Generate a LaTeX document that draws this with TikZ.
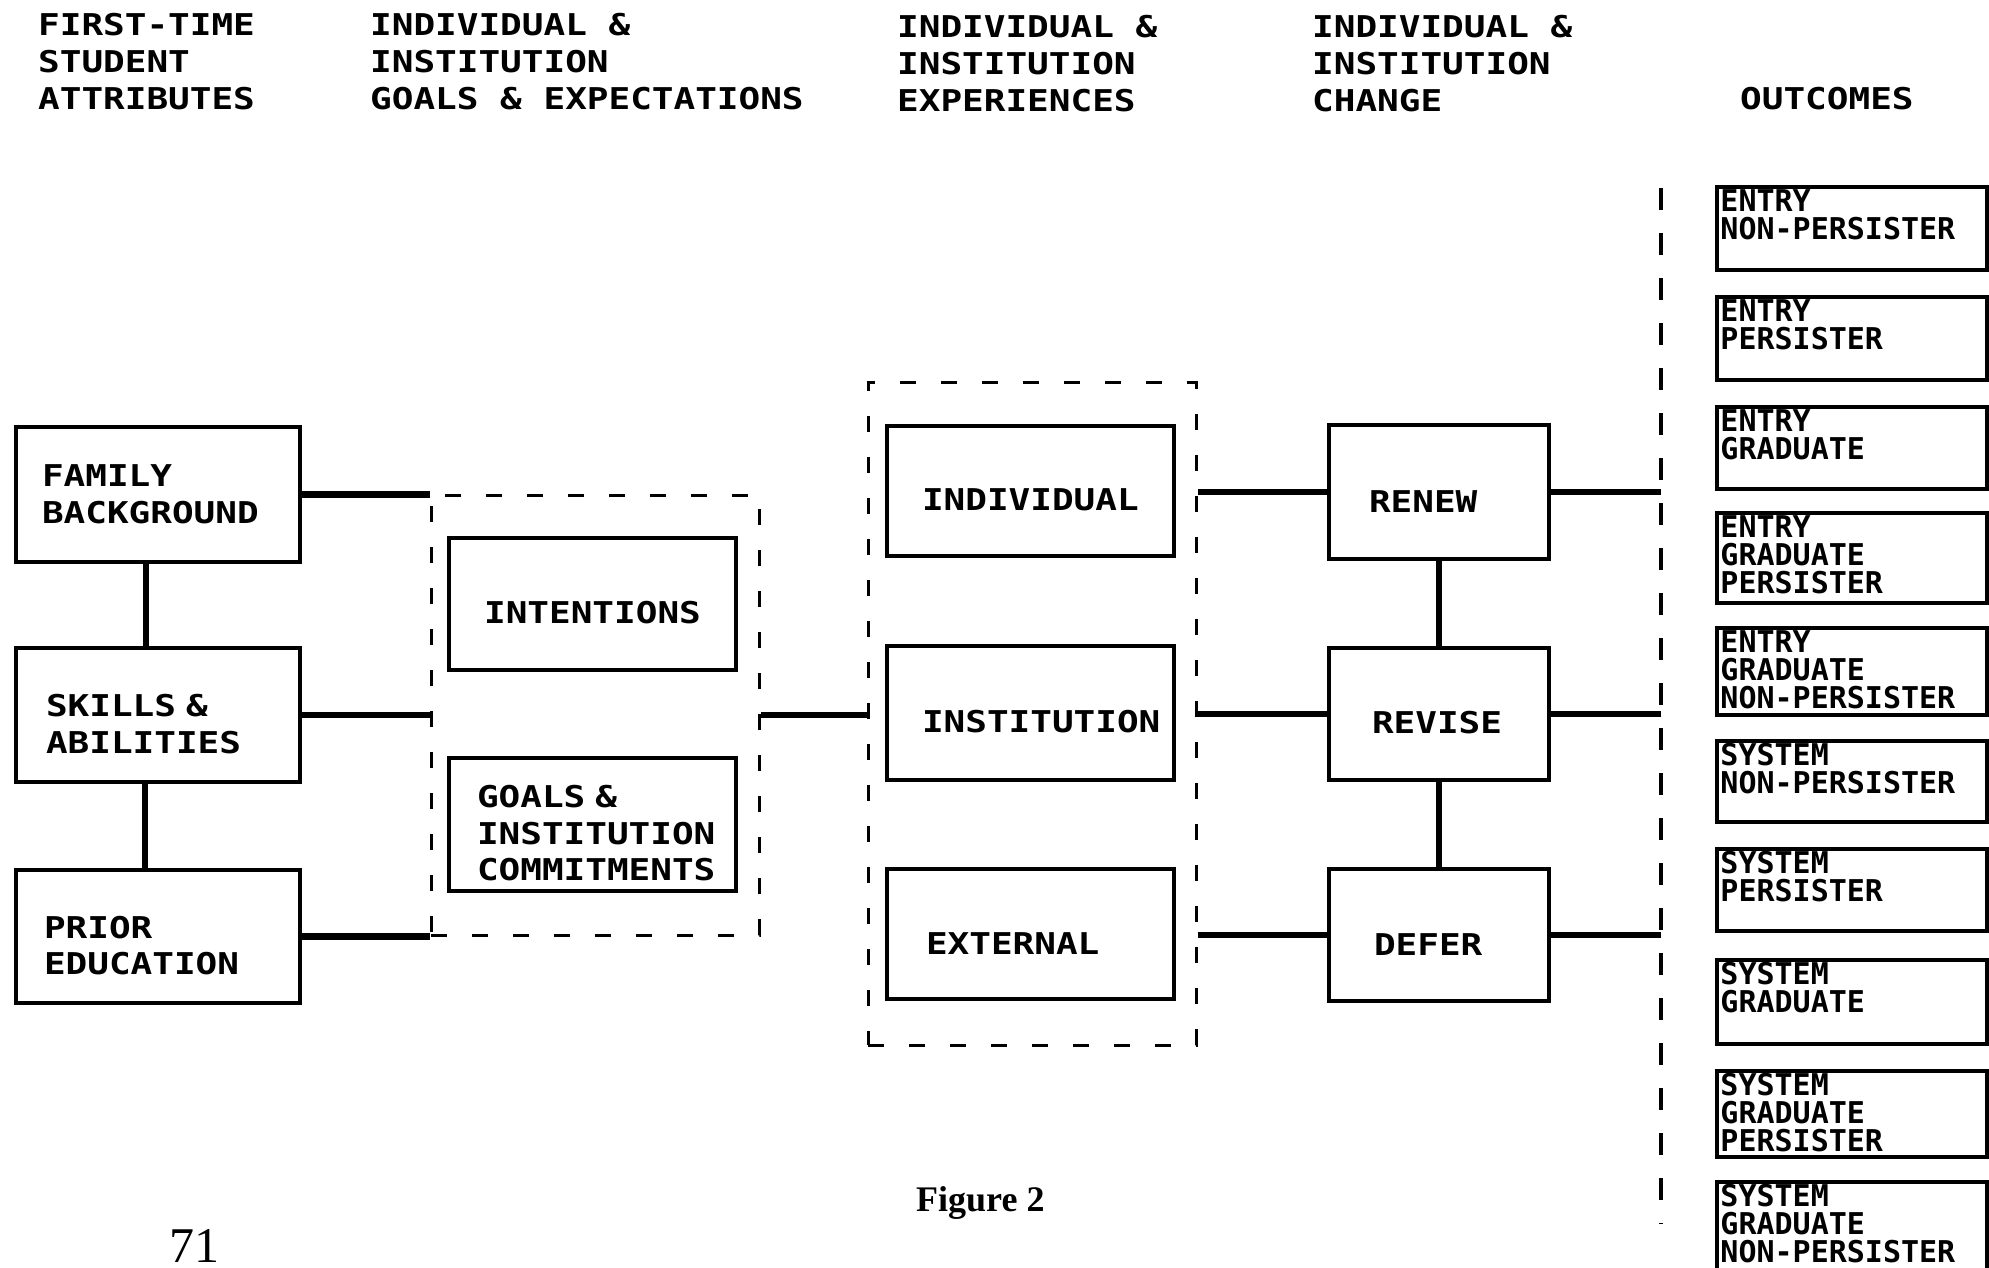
\documentclass[tikz,border=0pt]{standalone}
\usepackage{fontspec}
\newfontfamily\hdfont{DejaVu Sans Mono}[FakeStretch=1.2]
\newfontfamily\outfont{DejaVu Sans Mono}
\newfontfamily\figfont{Liberation Serif}
\newcommand\headfnt{\hdfont\bfseries\fontsize{30}{37}\selectfont}
\newcommand\boxfnt{\hdfont\bfseries\fontsize{30}{36.5}\selectfont}
\newcommand\outfnt{\outfont\bfseries\fontsize{30}{28}\selectfont}
\tikzset{
  boxplain/.style={draw, line width=4.5pt, inner ysep=0pt, align=left, font=\boxfnt},
  box/.style={boxplain, execute at begin node={\rule{0pt}{40pt}}},
  conn/.style={line width=6.5pt},
  dbox/.style={draw, line width=3pt, dash pattern=on 16pt off 25pt, inner sep=0pt},
  vdash/.style={line width=3.5pt, dash pattern=on 22pt off 23pt},
  obox/.style={draw, line width=3.5pt, minimum width=270pt, inner sep=0pt},
  otext/.style={anchor=north west, inner sep=0pt, align=left, font=\outfnt},
  head/.style={anchor=north west, inner sep=0pt, align=left, font=\headfnt}
}
\begin{document}
\begin{tikzpicture}[x=1pt,y=-1pt]
\useasboundingbox (0,0) rectangle (1989,1268);
\clip (0,0) rectangle (1989,1268);
% headers
\node[head] (h1) at (38,13) {FIRST-TIME\\STUDENT\\ATTRIBUTES};
\node[head] (h2) at (370,13) {INDIVIDUAL \&\\INSTITUTION\\GOALS \& EXPECTATIONS};
\node[head] (h3) at (897,15) {INDIVIDUAL \&\\INSTITUTION\\EXPERIENCES};
\node[head] (h4) at (1312,15) {INDIVIDUAL \&\\INSTITUTION\\CHANGE};
\node[head] (h5) at (1740,87) {OUTCOMES};
% left column
\node[boxplain, inner xsep=26pt, text width=232pt, minimum height=135pt] (fam) at (158,494.5) {FAMILY\\BACKGROUND};
\node[box, inner xsep=30pt, text width=224pt, minimum height=134pt] (ski) at (158,715) {SKILLS \&\\ABILITIES};
\node[box, inner xsep=28pt, text width=228pt, minimum height=133pt] (pri) at (158,936.5) {PRIOR\\EDUCATION};
% goals & expectations
\node[dbox, minimum width=328pt, minimum height=440pt] (d1) at (595,715) {};
\node[box, align=center, inner xsep=10pt, text width=267pt, minimum height=132pt] (int) at (592.5,604) {INTENTIONS};
\node[box, inner xsep=28pt, text width=231pt, minimum height=133pt] (goal) at (592.5,824.5) {GOALS \&\\INSTITUTION\\COMMITMENTS};
% experiences
\node[dbox, minimum width=328pt, minimum height=663pt] (d2) at (1032,713.5) {};
\node[box, inner xsep=35pt, text width=217pt, minimum height=130pt] (ind) at (1030.5,491) {INDIVIDUAL};
\node[box, inner xsep=35pt, text width=217pt, minimum height=134pt] (ins) at (1030.5,713) {INSTITUTION};
\node[box, inner xsep=39pt, text width=209pt, minimum height=130pt] (ext) at (1030.5,934) {EXTERNAL};
% change
\node[box, inner xsep=40pt, text width=140pt, minimum height=134pt] (renew) at (1439,492) {RENEW};
\node[box, inner xsep=43pt, text width=134pt, minimum height=132pt] (revise) at (1439,714) {REVISE};
\node[box, inner xsep=45pt, text width=130pt, minimum height=132pt] (defer) at (1439,935) {DEFER};
% outcomes divider
\coordinate (vt) at (1661,188);
\coordinate (vb) at (1661,1224);
\draw[vdash] (vt) -- (vb);
% outcome boxes
\node[obox, minimum height=83pt] (o1) at (1852,228.5) {};
\node[obox, minimum height=83pt] (o2) at (1852,338.5) {};
\node[obox, minimum height=82pt] (o3) at (1852,448) {};
\node[obox, minimum height=90pt] (o4) at (1852,558) {};
\node[obox, minimum height=87pt] (o5) at (1852,671.5) {};
\node[obox, minimum height=81pt] (o6) at (1852,781.5) {};
\node[obox, minimum height=82pt] (o7) at (1852,890) {};
\node[obox, minimum height=84pt] (o8) at (1852,1002) {};
\node[obox, minimum height=86pt] (o9) at (1852,1114) {};
\node[obox, minimum height=118pt] (o10) at (1852,1241) {};
\node[otext] (t1) at ([shift={(5,4)}]o1.north west) {ENTRY\\NON-PERSISTER};
\node[otext] (t2) at ([shift={(5,4)}]o2.north west) {ENTRY\\PERSISTER};
\node[otext] (t3) at ([shift={(5,4)}]o3.north west) {ENTRY\\GRADUATE};
\node[otext] (t4) at ([shift={(5,4)}]o4.north west) {ENTRY\\GRADUATE\\PERSISTER};
\node[otext] (t5) at ([shift={(5,4)}]o5.north west) {ENTRY\\GRADUATE\\NON-PERSISTER};
\node[otext] (t6) at ([shift={(5,4)}]o6.north west) {SYSTEM\\NON-PERSISTER};
\node[otext] (t7) at ([shift={(5,4)}]o7.north west) {SYSTEM\\PERSISTER};
\node[otext] (t8) at ([shift={(5,4)}]o8.north west) {SYSTEM\\GRADUATE};
\node[otext] (t9) at ([shift={(5,4)}]o9.north west) {SYSTEM\\GRADUATE\\PERSISTER};
\node[otext] (t10) at ([shift={(5,4)}]o10.north west) {SYSTEM\\GRADUATE\\NON-PERSISTER};
% connectors
\draw[conn] ([xshift=-12pt]fam.south) -- ([xshift=-12pt]fam.south |- ski.north);
\draw[conn] ([xshift=-13pt]ski.south) -- ([xshift=-13pt]ski.south |- pri.north);
\draw[conn] (fam.east) -- (fam.east -| d1.west);
\draw[conn] (ski.east) -- (ski.east -| d1.west);
\draw[conn] (pri.east) -- (pri.east -| d1.west);
\draw[conn] (d1.east) -- (d1.east -| d2.west);
\draw[conn] (renew.west -| d2.east) -- (renew.west);
\draw[conn] (revise.west -| d2.east) -- (revise.west);
\draw[conn] (defer.west -| d2.east) -- (defer.west);
\draw[conn] (renew) -- (revise);
\draw[conn] (revise) -- (defer);
\draw[conn] (renew.east) -- (renew.east -| vt);
\draw[conn] (revise.east) -- (revise.east -| vt);
\draw[conn] (defer.east) -- (defer.east -| vt);
% captions
\node[anchor=base west, inner sep=0pt, font=\figfont\bfseries\fontsize{36}{40}\selectfont] (fig) at (916,1211) {Figure 2};
\node[anchor=base west, inner sep=0pt, font=\figfont\fontsize{50}{54}\selectfont] (pg) at (169,1262) {71};
\end{tikzpicture}
\end{document}
